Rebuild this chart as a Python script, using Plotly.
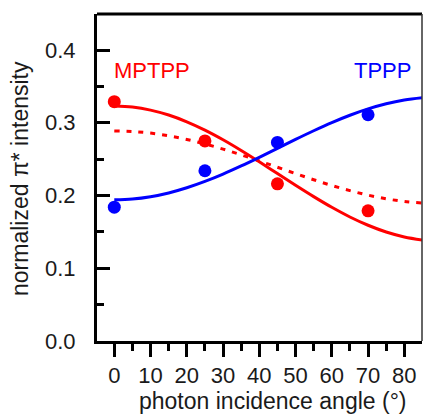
import plotly.graph_objects as go

# measured points
angles_pts = [0, 25, 45, 70]
mptpp_pts = [0.329, 0.275, 0.216, 0.179]
tppp_pts = [0.184, 0.234, 0.273, 0.311]

# fitted curves
curve_angles = [0, 5, 10, 15, 20, 25, 30, 35, 40, 45, 50, 55, 60, 65, 70, 75, 80, 85]
mptpp_fit = [0.3230, 0.3216, 0.3174, 0.3106, 0.3013, 0.2899, 0.2766, 0.2619, 0.2463,
             0.2302, 0.2141, 0.1985, 0.1838, 0.1705, 0.1591, 0.1498, 0.1430, 0.1388]
mptpp_fit2 = [0.2888, 0.2880, 0.2858, 0.2821, 0.2771, 0.2709, 0.2638, 0.2559, 0.2475,
              0.2388, 0.2301, 0.2217, 0.2138, 0.2067, 0.2005, 0.1955, 0.1918, 0.1896]
tppp_fit = [0.1940, 0.1951, 0.1983, 0.2035, 0.2106, 0.2193, 0.2294, 0.2406, 0.2525,
            0.2648, 0.2771, 0.2890, 0.3002, 0.3103, 0.3190, 0.3261, 0.3313, 0.3345]

x_ticks = [0, 10, 20, 30, 40, 50, 60, 70, 80]
y_ticks = [0.0, 0.1, 0.2, 0.3, 0.4]

RED = "#ff0000"
BLUE = "#0000ff"
FONT = "Liberation Sans, Arial, sans-serif"
TXT = "#1a1a1a"

fig = go.Figure()
fig.add_trace(go.Scatter(x=curve_angles, y=mptpp_fit2, mode="lines",
                         line=dict(color=RED, width=3, dash="5px,7px", shape="spline")))
fig.add_trace(go.Scatter(x=curve_angles, y=mptpp_fit, mode="lines",
                         line=dict(color=RED, width=3, shape="spline")))
fig.add_trace(go.Scatter(x=curve_angles, y=tppp_fit, mode="lines",
                         line=dict(color=BLUE, width=3, shape="spline")))
fig.add_trace(go.Scatter(x=angles_pts, y=mptpp_pts, mode="markers",
                         marker=dict(color=RED, size=13), cliponaxis=False))
fig.add_trace(go.Scatter(x=angles_pts, y=tppp_pts, mode="markers",
                         marker=dict(color=BLUE, size=13), cliponaxis=False))

fig.update_layout(
    width=423, height=416,
    margin=dict(l=97, r=1, t=14, b=75),
    paper_bgcolor="white", plot_bgcolor="white",
    showlegend=False,
    font=dict(family=FONT, size=22, color=TXT),
    xaxis=dict(range=[-4.77, 84.88], tickvals=x_ticks, ticktext=[str(v) for v in x_ticks],
               ticks="outside", ticklen=13, tickwidth=3, tickcolor="black",
               showline=True, linewidth=3, linecolor="black", showgrid=False, zeroline=False,
               minor=dict(ticks="outside", ticklen=7, tickwidth=3, tickcolor="black", dtick=5, tick0=0),
               tickfont=dict(size=22, color=TXT), ticklabelstandoff=0),
    yaxis=dict(range=[0, 0.4495], tickvals=y_ticks, ticktext=[f"{v:.1f}" for v in y_ticks],
               ticks="inside", ticklen=13, tickwidth=3, tickcolor="black",
               showline=True, linewidth=3, linecolor="black", showgrid=False, zeroline=False,
               minor=dict(ticks="inside", ticklen=7, tickwidth=3, tickcolor="black", dtick=0.05, tick0=0),
               tickfont=dict(size=22, color=TXT), ticklabelstandoff=14),
    shapes=[
        dict(type="line", xref="paper", yref="paper", x0=0, x1=1, y0=1, y1=1,
             line=dict(color="black", width=3)),
        dict(type="line", xref="paper", yref="paper", x0=1, x1=1, y0=0, y1=1,
             line=dict(color="#333333", width=1.5)),
    ],
    annotations=[
        dict(text="MPTPP", x=-0.63, y=0.3725, xref="x", yref="y", showarrow=False,
             xanchor="left", yanchor="middle", font=dict(size=22, color=RED, family=FONT)),
        dict(text="TPPP", x=82.4, y=0.3725, xref="x", yref="y", showarrow=False,
             xanchor="right", yanchor="middle", font=dict(size=22, color=BLUE, family=FONT)),
        dict(text="photon incidence angle (°)", x=(273 - 97) / 325, y=-60 / 327,
             xref="paper", yref="paper", showarrow=False, xanchor="center", yanchor="middle",
             font=dict(size=23, color=TXT, family=FONT)),
        dict(text="normalized π* intensity", x=(20 - 97) / 325, y=(341 - 179) / 327,
             xref="paper", yref="paper", showarrow=False, xanchor="center", yanchor="middle",
             textangle=-90, font=dict(size=23, color=TXT, family=FONT)),
    ],
)

fig.write_html("out.html")
